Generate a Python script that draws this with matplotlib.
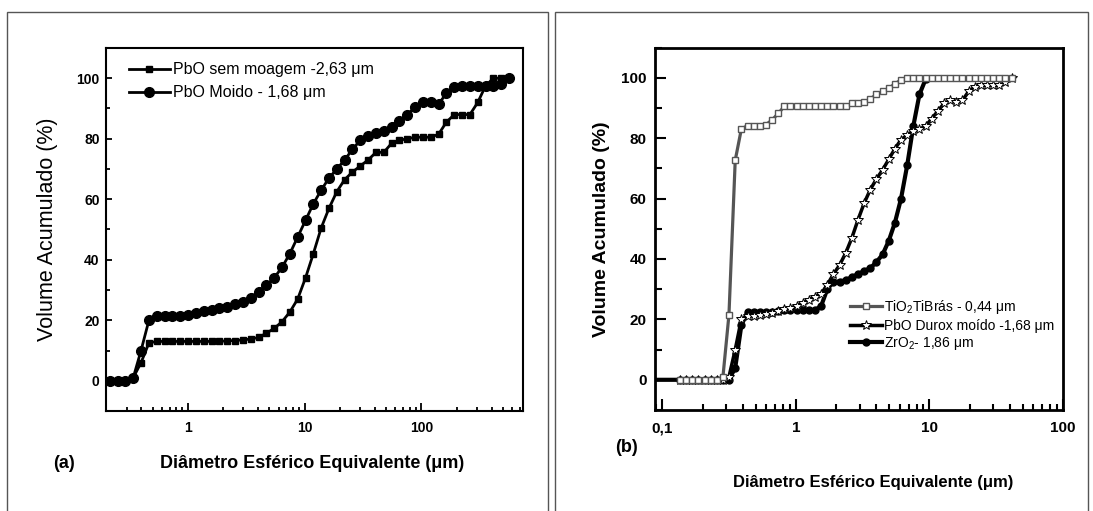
import matplotlib
matplotlib.use('Agg')
import matplotlib.pyplot as plt
from matplotlib.patches import Rectangle
from matplotlib.ticker import LogLocator, MultipleLocator, FixedLocator, FixedFormatter, NullFormatter

plt.rcParams['font.family'] = ['Liberation Sans', 'DejaVu Sans']
plt.rcParams['mathtext.fontset'] = 'custom'
plt.rcParams['mathtext.rm'] = 'Liberation Sans'
plt.rcParams['mathtext.it'] = 'Liberation Sans:italic'
plt.rcParams['mathtext.bf'] = 'Liberation Sans:bold'

# ---- painel (a): diametros (um) e volume acumulado (%)
diam_a = [0.215, 0.251, 0.293, 0.342, 0.399, 0.466, 0.543, 0.634, 0.740, 0.863,
          1.007, 1.175, 1.371, 1.600, 1.866, 2.178, 2.541, 2.965, 3.459, 4.036,
          4.710, 5.495, 6.412, 7.482, 8.730, 10.19, 11.89, 13.87, 16.18, 18.88,
          22.03, 25.70, 29.99, 34.99, 40.83, 47.64, 55.59, 64.86, 75.68, 88.31,
          103.0, 120.2, 140.3, 163.7, 191.0, 222.8, 260.0, 303.4, 354.0, 413.0,
          481.9, 562.3]

pbo_sem_moagem = [0, 0, 0, 1, 6, 12.5, 13, 13, 13, 13, 13, 13, 13, 13, 13, 13.2, 13.3,
                  13.5, 13.8, 14.3, 15.7, 17.3, 19.5, 22.7, 27, 34, 42, 50.5, 57, 62.5,
                  66.5, 69, 71, 73, 75.5, 75.5, 78.5, 79.5, 80, 80.5, 80.5, 80.5, 81.5,
                  85.5, 88, 88, 88, 92, 97.5, 100, 100]

pbo_moido = [0, 0, 0, 1, 10, 20, 21.5, 21.5, 21.5, 21.5, 21.8, 22.3, 23, 23.5, 24,
             24.5, 25.5, 26, 27.5, 29.5, 31.5, 34, 37.5, 42, 47.5, 53, 58.5, 63, 67,
             70, 73, 76.5, 79.5, 81, 82, 82.5, 84, 86, 88, 90.5, 92, 92, 91.5, 95, 97,
             97.5, 97.5, 97.5, 97.5, 97.5, 98, 100]

# ---- painel (b)
diam_b = [0.135, 0.150, 0.167, 0.186, 0.207, 0.230, 0.255, 0.284, 0.315, 0.351,
          0.390, 0.434, 0.482, 0.536, 0.596, 0.662, 0.736, 0.818, 0.910, 1.012,
          1.125, 1.250, 1.390, 1.545, 1.718, 1.910, 2.123, 2.360, 2.624, 2.917,
          3.243, 3.606, 4.009, 4.457, 4.955, 5.508, 6.124, 6.808, 7.568, 8.414,
          9.354, 10.40, 11.56, 12.85, 14.29, 15.89, 17.66, 19.63, 21.83, 24.27,
          26.98, 29.99, 33.34, 37.07, 41.21]
diam_zro2_ini = [0.0796, 0.0885, 0.0984, 0.1094, 0.1216]

tio2 = [0, 0, 0, 0, 0, 0, 0, 1, 21.5, 72.7, 83, 84.2, 84.2, 84.2, 84.5, 86, 88.2,
        90.5, 90.5, 90.5, 90.5, 90.5, 90.5, 90.5, 90.5, 90.5, 90.5, 90.5,
        91.5, 91.5, 92, 93, 94.5, 95.5, 96.5, 98, 99.3,
        100, 100, 100, 100, 100, 100, 100, 100, 100, 100, 100, 100, 100, 100, 100,
        100, 100, 100]

pbo_durox = [0, 0, 0, 0, 0, 0, 0, 0, 1, 10, 20, 21, 21.2, 21.5, 21.8, 22.2, 22.7,
             23.3, 23.8, 24.5, 25.5, 26.5, 27.5, 28.5, 31.5, 35, 38, 42, 47, 53,
             58.5, 63, 66.5, 69.5, 73, 76.5, 79.5, 81, 82.5, 83, 84, 86.5, 89, 91.5,
             92.5, 92, 92.5, 95.5, 97, 97.5, 97.5, 97.5, 97.5, 98.5, 100]

zro2 = [0, 0, 0, 0, 0, 0, 0, 0, 0, 0, 0, 0, 0, 0, 4, 18, 22.5, 22.5, 22.5, 22.5,
        22.5, 22.7, 23, 23, 23, 23, 23, 23, 24.5, 30, 32.5, 32.5, 33, 34, 35, 36, 37,
        39, 41.5, 46, 52, 60, 71, 84, 94.5, 99.5]

W, H = 1093, 511
fig = plt.figure(figsize=(W / 100, H / 100), dpi=100)

# molduras externas
for x0, x1 in [(6.5, 548), (555, 1088)]:
    fig.add_artist(Rectangle((x0 / W, -0.1), (x1 - x0) / W, 1.1 - 12 / H,
                             transform=fig.transFigure, fill=False,
                             edgecolor='#555555', linewidth=1.0))

# ---------------- (a)
ax1 = fig.add_axes([106 / W, 1 - 411 / H, 417 / W, 363 / H])
ax1.plot(diam_a[:len(pbo_sem_moagem)], pbo_sem_moagem, color='black', lw=2,
         marker='s', ms=4.8, label='PbO sem moagem -2,63 μm')
ax1.plot(diam_a, pbo_moido, color='black', lw=2, marker='o', ms=7,
         label='PbO Moido - 1,68 μm')
ax1.set_xscale('log')
ax1.set_xlim(0.2, 740)
ax1.set_ylim(-10, 110)
ax1.xaxis.set_major_locator(FixedLocator([1, 10, 100]))
ax1.xaxis.set_major_formatter(FixedFormatter(['1', '10', '100']))
ax1.xaxis.set_minor_locator(LogLocator(base=10, subs=range(2, 10), numticks=20))
ax1.xaxis.set_minor_formatter(NullFormatter())
ax1.yaxis.set_major_locator(MultipleLocator(20))
ax1.yaxis.set_minor_locator(MultipleLocator(10))
ax1.tick_params(which='both', direction='in', top=False, right=False, width=1.3)
ax1.tick_params(axis='y', which='major', length=4.5, pad=4.5)
ax1.tick_params(axis='y', which='minor', length=3)
ax1.tick_params(axis='x', which='major', length=6, pad=7)
ax1.tick_params(axis='x', which='minor', length=3)
for lab in ax1.get_xticklabels() + ax1.get_yticklabels():
    lab.set_fontweight('bold')
    lab.set_fontsize(10)
for sp in ax1.spines.values():
    sp.set_linewidth(1.5)
ax1.set_ylabel('Volume Acumulado (%)', fontsize=15.5, labelpad=13)
ax1.legend(loc='upper left', bbox_to_anchor=(0.02, 1.0), frameon=False,
           fontsize=11.5, handlelength=2.6, handletextpad=0.15, labelspacing=0.5,
           borderaxespad=0.5)
fig.text(312 / W, 1 - 463 / H, 'Diâmetro Esférico Equivalente (μm)',
         ha='center', va='center', fontsize=13, fontweight='bold')
fig.text(64 / W, 1 - 463 / H, '(a)', ha='center', va='center', fontsize=13,
         fontweight='bold')

# ---------------- (b)
ax2 = fig.add_axes([655 / W, 1 - 410 / H, 408 / W, 362.4 / H])
n_ini = len(diam_zro2_ini)
l_zr, = ax2.plot(diam_zro2_ini + diam_b[:41], zro2, color='black', lw=3,
                 marker='o', ms=5, markevery=list(range(n_ini, len(zro2))),
                 label='ZrO$_2$- 1,86 μm')
l_pb, = ax2.plot(diam_b, pbo_durox, color='black', lw=2.5, marker='*', ms=7.5,
                 mfc='white', mec='black', mew=0.7, label='PbO Durox moído -1,68 μm')
l_ti, = ax2.plot(diam_b, tio2, color='#555555', lw=2.3, marker='s', ms=4.2,
                 mfc='white', mec='#555555', mew=1.0, label='TiO$_2$TiBrás - 0,44 μm')
ax2.set_xscale('log')
ax2.set_xlim(0.088, 100)
ax2.set_ylim(-10, 110)
ax2.xaxis.set_major_locator(FixedLocator([0.1, 1, 10, 100]))
ax2.xaxis.set_major_formatter(FixedFormatter(['0,1', '1', '10', '100']))
ax2.xaxis.set_minor_locator(LogLocator(base=10, subs=range(2, 10), numticks=20))
ax2.xaxis.set_minor_formatter(NullFormatter())
ax2.yaxis.set_major_locator(MultipleLocator(20))
ax2.yaxis.set_minor_locator(MultipleLocator(10))
ax2.tick_params(which='both', direction='in', top=False, right=False, width=1.5)
ax2.tick_params(axis='y', which='major', length=8, pad=6)
ax2.tick_params(axis='y', which='minor', length=5)
ax2.tick_params(axis='x', which='major', length=8, pad=8)
ax2.tick_params(axis='x', which='minor', length=4)
for lab in ax2.get_xticklabels() + ax2.get_yticklabels():
    lab.set_fontweight('bold')
    lab.set_fontsize(11)
for sp in ax2.spines.values():
    sp.set_linewidth(2)
ax2.set_ylabel('Volume Acumulado (%)', fontsize=14, fontweight='bold', labelpad=8)
ax2.legend(handles=[l_ti, l_pb, l_zr], loc='upper left',
           bbox_to_anchor=(0.465, 0.325), frameon=False, fontsize=10,
           handlelength=2.3, handletextpad=0.1, labelspacing=0.2,
           borderaxespad=0.0)
fig.text(873 / W, 1 - 482 / H, 'Diâmetro Esférico Equivalente (μm)',
         ha='center', va='center', fontsize=12, fontweight='bold')
fig.text(627 / W, 1 - 448 / H, '(b)', ha='center', va='center', fontsize=13,
         fontweight='bold')

fig.savefig('out.png', dpi=100)
